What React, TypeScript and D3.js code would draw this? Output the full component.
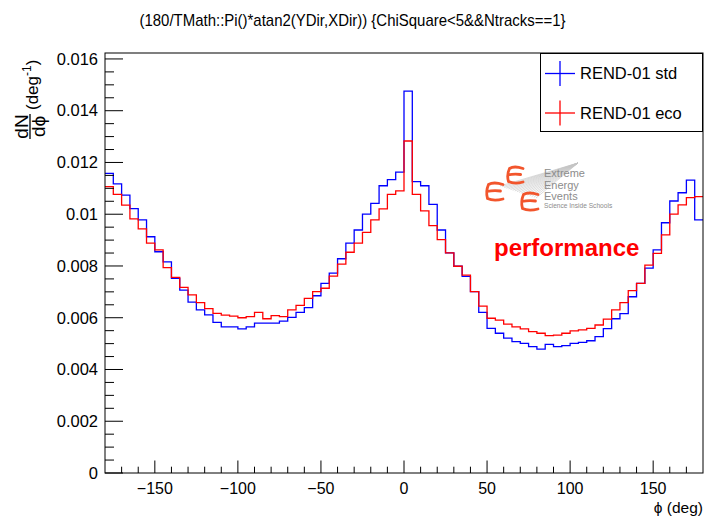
import React from "react";
import * as d3 from "d3";

// Azimuthal angle distributions (normalised, 5° bins from -180° to 180°)
const TITLE = "(180/TMath::Pi()*atan2(YDir,XDir)) {ChiSquare<5&&Ntracks==1}";
const PHI_MIN = -180;
const PHI_MAX = 180;
const BIN_WIDTH = 5;

const stdValues = [
  0.01158, 0.01117, 0.01074, 0.01022, 0.00978, 0.00913, 0.00855, 0.00816, 0.00752, 0.00707,
  0.0066, 0.0063, 0.00611, 0.00582, 0.00565, 0.00565, 0.00557, 0.00565, 0.00579, 0.00579,
  0.00579, 0.00587, 0.00601, 0.00621, 0.00639, 0.00685, 0.00733, 0.00772, 0.00828, 0.00888,
  0.00939, 0.01, 0.01042, 0.0111, 0.01134, 0.01163, 0.01476, 0.01126, 0.0111, 0.01038,
  0.00939, 0.00851, 0.00799, 0.0076, 0.00701, 0.00621, 0.00559, 0.0054, 0.00521, 0.00508,
  0.00501, 0.00488, 0.00479, 0.00497, 0.00488, 0.00492, 0.00501, 0.00505, 0.00511, 0.00527,
  0.00558, 0.00596, 0.00616, 0.00681, 0.00733, 0.00792, 0.00862, 0.00967, 0.01051, 0.01083,
  0.01132, 0.00978,
];

const ecoValues = [
  0.01107, 0.01077, 0.01035, 0.00982, 0.00943, 0.00888, 0.00862, 0.00794, 0.00756, 0.00717,
  0.00688, 0.00658, 0.00635, 0.00617, 0.0061, 0.00606, 0.006, 0.00604, 0.00621, 0.00596,
  0.00608, 0.00604, 0.0063, 0.00648, 0.00675, 0.00701, 0.00714, 0.00761, 0.00807, 0.00853,
  0.00888, 0.0093, 0.00978, 0.01021, 0.01077, 0.0109, 0.01283, 0.01077, 0.01013, 0.00956,
  0.00902, 0.00851, 0.00799, 0.00765, 0.00701, 0.00645, 0.00598, 0.00591, 0.00575, 0.00565,
  0.00557, 0.00546, 0.0054, 0.00531, 0.00533, 0.0054, 0.00549, 0.00553, 0.00559, 0.00572,
  0.00595, 0.0063, 0.00658, 0.00705, 0.00733, 0.00803, 0.00849, 0.0092, 0.01, 0.01036,
  0.01064, 0.01068,
];

const seriesNames = ["REND-01 std", "REND-01 eco"];
const seriesColors = ["#0000ff", "#ff0000"];

const xMajorTicks = [-150, -100, -50, 0, 50, 100, 150];
const xTickLabels = ["\u2212150", "\u2212100", "\u221250", "0", "50", "100", "150"];
const yMajorTicks = [0, 0.002, 0.004, 0.006, 0.008, 0.01, 0.012, 0.014, 0.016];
const yTickLabels = ["0", "0.002", "0.004", "0.006", "0.008", "0.01", "0.012", "0.014", "0.016"];

const logoLines = ["Extreme", "Energy", "Events"];
const logoTagline = "Science Inside Schools";
const stamp = "performance";

const W = 705;
const H = 517;
const FRAME = { left: 105, right: 703, top: 53, bottom: 473 };
const Y_MAX = 0.01623;
const FONT = "'Liberation Sans', Arial, Helvetica, sans-serif";

const x = d3.scaleLinear().domain([PHI_MIN, PHI_MAX]).range([FRAME.left, FRAME.right]);
const y = d3.scaleLinear().domain([0, Y_MAX]).range([FRAME.bottom, FRAME.top]);

const binEdges = d3.range(PHI_MIN, PHI_MAX + BIN_WIDTH / 2, BIN_WIDTH);

const stepLine = d3
  .line<[number, number]>()
  .x((d) => x(d[0]))
  .y((d) => y(d[1]))
  .curve(d3.curveStepAfter);

function histPath(values: number[]) {
  const pts: [number, number][] = values.map((v, i) => [binEdges[i], v]);
  pts.push([binEdges[values.length], values[values.length - 1]]);
  return stepLine(pts) || "";
}

const xMinorTicks = d3.range(PHI_MIN + 10, PHI_MAX, 10).filter((t) => !xMajorTicks.includes(t));
const yMinorTicks = d3
  .range(0, 0.01601, 0.0005)
  .filter((t) => !yMajorTicks.some((m) => Math.abs(m - t) < 1e-9));

// Brush-style "E" used in the EEE project mark
function EShape({ x0, y0, w, h }: { x0: number; y0: number; w: number; h: number }) {
  const d = `M${x0 + w},${y0 + 1.5} Q${x0 + w * 0.45},${y0 - 1.5} ${x0 + 2.5},${y0 + 1.5}
    Q${x0 - 0.5},${y0 + h / 2} ${x0 + 1.5},${y0 + h - 1.5}
    Q${x0 + w * 0.45},${y0 + h + 1.5} ${x0 + w},${y0 + h - 1}
    M${x0 + 1},${y0 + h / 2} Q${x0 + w * 0.45},${y0 + h / 2 - 1.5} ${x0 + w * 0.85},${y0 + h / 2 - 0.5}`;
  return <path d={d} fill="none" stroke="#f2552c" strokeWidth={2.8} strokeLinecap="round" />;
}

export default function App() {
  const fan = d3.range(18).map((i) => {
    const t = i / 17;
    return { x2: 500 + t * 36, y2: 186 + t * 12 };
  });

  return (
    <div style={{ position: "absolute", left: 0, top: 0 }}>
      <svg width={W} height={H} style={{ display: "block", background: "#fff" }} fontFamily={FONT}>
        {/* title */}
        <text
          x={W / 2}
          y={26}
          textAnchor="middle"
          fontSize={17}
          textLength={426}
          lengthAdjust="spacingAndGlyphs"
          fill="#000"
        >
          {TITLE}
        </text>

        {/* histograms */}
        <g fill="none" strokeWidth={1.3}>
          <path d={histPath(stdValues)} stroke={seriesColors[0]} />
          <path d={histPath(ecoValues)} stroke={seriesColors[1]} />
        </g>

        {/* frame */}
        <rect
          x={FRAME.left}
          y={FRAME.top}
          width={FRAME.right - FRAME.left}
          height={FRAME.bottom - FRAME.top}
          fill="none"
          stroke="#000"
          strokeWidth={1}
        />

        {/* axis ticks */}
        <g stroke="#000" strokeWidth={1}>
          {xMajorTicks.map((t) => (
            <line key={"xM" + t} x1={x(t)} x2={x(t)} y1={FRAME.bottom} y2={FRAME.bottom - 12.5} />
          ))}
          {xMinorTicks.map((t) => (
            <line key={"xm" + t} x1={x(t)} x2={x(t)} y1={FRAME.bottom} y2={FRAME.bottom - 6.3} />
          ))}
          {yMajorTicks.map((t) => (
            <line key={"yM" + t} x1={FRAME.left} x2={FRAME.left + 18} y1={y(t)} y2={y(t)} />
          ))}
          {yMinorTicks.map((t) => (
            <line key={"ym" + t} x1={FRAME.left} x2={FRAME.left + 9} y1={y(t)} y2={y(t)} />
          ))}
        </g>

        {/* tick labels */}
        <g fill="#000">
          {xMajorTicks.map((t, i) => (
            <text key={"xl" + t} x={x(t)} y={494} textAnchor="middle" fontSize={16}>
              {xTickLabels[i]}
            </text>
          ))}
          {yMajorTicks.map((t, i) => (
            <text key={"yl" + t} x={98} y={y(t)} dy="0.35em" textAnchor="end" fontSize={16.5}>
              {yTickLabels[i]}
            </text>
          ))}
        </g>

        {/* axis titles */}
        <text x={703} y={512.5} textAnchor="end" fontSize={15.5} fill="#000">
          {"\u03d5 (deg)"}
        </text>
        <g transform="translate(30,139) rotate(-90)" fill="#000">
          <text x={12.5} y={-2.5} textAnchor="middle" fontSize={19}>
            dN
          </text>
          <line x1={0} x2={25} y1={0} y2={0} stroke="#000" strokeWidth={1.3} />
          <text x={12.5} y={15} textAnchor="middle" fontSize={19}>
            {"d\u03d5"}
          </text>
          <text x={29} y={8} fontSize={17}>
            (deg
            <tspan fontSize={12} dy={-7}>
              -1
            </tspan>
            <tspan dy={7}>)</tspan>
          </text>
        </g>

        {/* legend */}
        <rect x={540.5} y={53.5} width={162} height={78} fill="#fff" stroke="#000" strokeWidth={1} />
        {seriesNames.map((name, i) => {
          const cy = 73.5 + i * 39.5;
          return (
            <g key={name}>
              <line x1={545} x2={575} y1={cy} y2={cy} stroke={seriesColors[i]} strokeWidth={1.3} />
              <line x1={560} x2={560} y1={cy - 12.5} y2={cy + 12.5} stroke={seriesColors[i]} strokeWidth={1.3} />
              <text x={580} y={cy} dy="0.35em" fontSize={16.5} fill="#000">
                {name}
              </text>
            </g>
          );
        })}

        {/* EEE mark */}
        <g>
          {fan.map((f, i) => (
            <line key={"fan" + i} x1={578} y1={163} x2={f.x2} y2={f.y2} stroke="#c4c4c4" strokeWidth={0.6} />
          ))}
          <EShape x0={507} y0={167} w={16} h={16} />
          <EShape x0={486} y0={183} w={17} h={17} />
          <EShape x0={521} y0={193} w={17} h={17} />
          {logoLines.map((l, i) => (
            <text key={l} x={544} y={177 + i * 11.5} fontSize={11} fill="#8c8c8c">
              {l}
            </text>
          ))}
          <text x={544} y={208} fontSize={6.6} fill="#8c8c8c">
            {logoTagline}
          </text>
        </g>

        <text x={494} y={256} fontSize={24} fontWeight="bold" fill="#ff0000">
          {stamp}
        </text>
      </svg>
    </div>
  );
}
